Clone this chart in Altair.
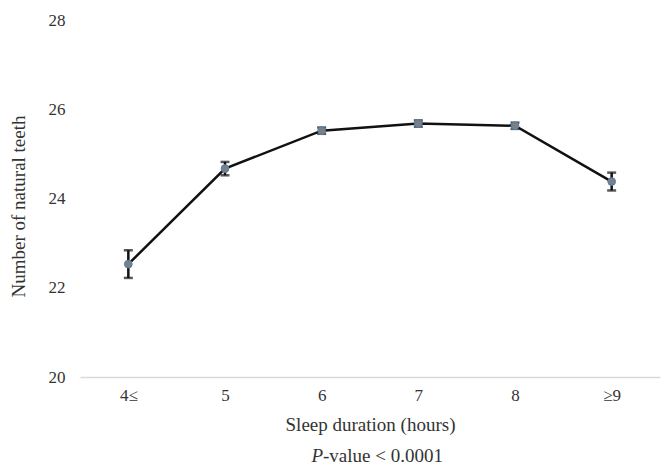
import altair as alt
import pandas as pd

categories = ["4≤", "5", "6", "7", "8", "≥9"]
means = [22.53, 24.67, 25.52, 25.68, 25.63, 24.38]
lower = [22.22, 24.52, 25.45, 25.61, 25.56, 24.18]
upper = [22.84, 24.82, 25.59, 25.75, 25.70, 24.58]

df = pd.DataFrame({"cat": categories, "mean": means, "lo": lower, "hi": upper})

FONT = "Liberation Serif"
x = alt.X("cat:N", sort=categories, scale=alt.Scale(type="point", padding=0.5),
          axis=alt.Axis(title="Sleep duration (hours)", labelAngle=0, ticks=False, domainColor="#d9d9d9",
                        domainWidth=1.5, labelPadding=10, titlePadding=12))
yscale = alt.Scale(domain=[20, 28])
yaxis = alt.Axis(title="Number of natural teeth", values=[20, 22, 24, 26, 28], ticks=False,
                 domain=False, grid=False, labelPadding=15, titlePadding=20, titleY=186)

base = alt.Chart(df).encode(x=x)

line = base.mark_line(color="#111111", strokeWidth=2.5).encode(y=alt.Y("mean:Q", scale=yscale, axis=yaxis))
rule = base.mark_rule(color="#111111", strokeWidth=2.5).encode(
    y=alt.Y("lo:Q", scale=yscale, axis=yaxis), y2="hi:Q")
cap_lo = base.mark_tick(color="#111111", thickness=2.5, size=9).encode(y=alt.Y("lo:Q", scale=yscale, axis=yaxis))
cap_hi = base.mark_tick(color="#111111", thickness=2.5, size=9).encode(y=alt.Y("hi:Q", scale=yscale, axis=yaxis))
pts = base.mark_point(filled=True, shape="circle", size=60, fill="#7f7f7f", stroke="#4a7ebb",
                      strokeWidth=1, opacity=1).encode(y=alt.Y("mean:Q", scale=yscale, axis=yaxis))

ann = pd.DataFrame({"t": ["x"]})
p_txt = alt.Chart(ann).mark_text(text="P", fontStyle="italic", font=FONT, fontSize=19, align="right",
                                 baseline="middle", color="#333333").encode(x=alt.value(243), y=alt.value(436))
v_txt = alt.Chart(ann).mark_text(text="-value < 0.0001", font=FONT, fontSize=19, align="left",
                                 baseline="middle", color="#333333").encode(x=alt.value(243), y=alt.value(436))

chart = alt.layer(line, rule, cap_lo, cap_hi, pts, p_txt, v_txt).properties(
    width=580, height=357,
    autosize=alt.AutoSizeParams(type="none"),
    padding={"left": 72, "top": 12, "right": 2, "bottom": 88},
).configure_view(stroke=None).configure_axis(
    labelFont=FONT, titleFont=FONT, labelFontSize=17, titleFontSize=19,
    labelColor="#333333", titleColor="#333333", titleFontWeight="normal",
)

chart.save("out.html", embed_options={"renderer": "svg", "actions": False})
